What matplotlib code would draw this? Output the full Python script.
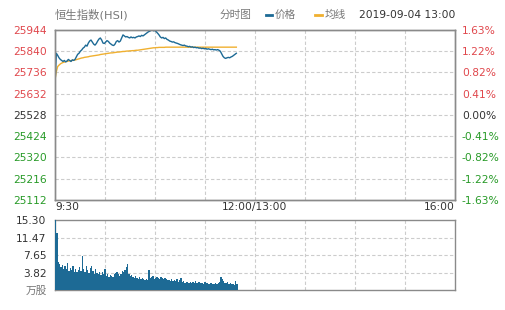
import matplotlib
matplotlib.use('agg')
import matplotlib.pyplot as plt
from matplotlib.lines import Line2D

plt.rcParams['font.family'] = ['DejaVu Sans', 'Noto Sans CJK SC']
plt.rcParams['font.size'] = 7.7

# ---- data (minutes after 9:30) ----
price = [
    25675, 25830, 25820, 25808, 25800, 25795, 25790, 25795, 25788, 25792,
    25800, 25795, 25790, 25798, 25795, 25800, 25812, 25825, 25830, 25840,
    25846, 25855, 25860, 25870, 25865, 25880, 25890, 25895, 25885, 25875,
    25870, 25878, 25890, 25900, 25905, 25895, 25880, 25878, 25885, 25892,
    25888, 25880, 25875, 25870, 25868, 25875, 25888, 25892, 25885, 25890,
    25905, 25920, 25915, 25910, 25912, 25908, 25905, 25910, 25906, 25908,
    25905, 25910, 25912, 25915, 25912, 25918, 25915, 25920, 25925, 25930,
    25935, 25938, 25942, 25944, 25940, 25942, 25935, 25928, 25920, 25910,
    25905, 25908, 25902, 25905, 25898, 25895, 25890, 25888, 25885, 25886,
    25882, 25880, 25878, 25875, 25872, 25870, 25868, 25870, 25866, 25865,
    25862, 25864, 25860, 25862, 25858, 25860, 25857, 25858, 25855, 25856,
    25853, 25855, 25852, 25854, 25850, 25852, 25850, 25848, 25850, 25847,
    25848, 25846, 25848, 25845, 25840, 25828, 25815, 25808, 25805, 25808,
    25810, 25808, 25812, 25815, 25820, 25825, 25830,
]
avg = [
    25700, 25740, 25765, 25772, 25778, 25782, 25785, 25787, 25789, 25790,
    25792, 25793, 25794, 25795, 25796, 25797, 25799, 25801, 25803, 25805,
    25807, 25808, 25810, 25811, 25812, 25813, 25815, 25816, 25817, 25818,
    25819, 25820, 25821, 25822, 25824, 25825, 25826, 25827, 25828, 25829,
    25830, 25831, 25832, 25832, 25833, 25834, 25835, 25836, 25836, 25837,
    25838, 25839, 25839, 25840, 25841, 25841, 25842, 25842, 25843, 25843,
    25844, 25845, 25845, 25846, 25847, 25848, 25849, 25850, 25851, 25852,
    25853, 25854, 25855, 25856, 25857, 25857, 25858, 25858, 25859, 25859,
    25859, 25859, 25859, 25860, 25860, 25860, 25860, 25860, 25860, 25860,
    25860, 25860, 25860, 25860, 25860, 25860, 25860, 25860, 25860, 25860,
    25860, 25860, 25860, 25860, 25860, 25860, 25860, 25860, 25860, 25860,
    25860, 25860, 25860, 25860, 25860, 25860, 25860, 25860, 25860, 25860,
    25860, 25860, 25860, 25860, 25860, 25860, 25860, 25860, 25860, 25860,
    25860, 25860, 25860, 25860, 25860, 25860, 25860,
]
volume = [
    15.3, 12.5, 6.2, 5.6, 5.0, 5.4, 4.6, 5.2, 4.5, 5.8,
    4.2, 4.8, 4.4, 5.3, 4.0, 4.6, 3.9, 4.3, 5.0, 4.1,
    7.5, 4.6, 4.0, 5.2, 4.4, 3.8, 4.8, 5.3, 4.2, 3.6,
    4.5, 3.8, 3.4, 4.0, 3.2, 3.9, 3.5, 4.6, 3.1, 3.4,
    2.8, 3.3, 3.0, 2.9, 3.4, 3.7, 3.9, 3.5, 3.1, 3.6,
    4.1, 3.9, 4.4, 5.0, 5.6, 3.4, 3.0, 3.2, 2.8, 2.6,
    3.0, 2.7, 2.5, 2.9, 2.4, 2.6, 2.3, 2.2, 2.5, 2.1,
    4.4, 2.6, 2.8, 3.0, 2.5, 2.7, 2.9, 2.6, 2.4, 2.8,
    2.7, 2.5, 2.6, 2.3, 2.2, 2.1, 2.0, 2.3, 1.9, 2.2,
    2.0, 2.4, 1.8, 2.1, 2.6, 1.7, 1.9, 1.6, 1.8, 1.7,
    1.6, 1.8, 1.5, 1.7, 1.6, 1.9, 1.5, 1.7, 1.8, 1.6,
    1.5, 1.4, 1.7, 1.6, 1.5, 1.4, 1.6, 1.5, 1.3, 1.4,
    1.5, 1.4, 1.6, 1.8, 2.8, 2.4, 1.9, 1.6, 1.5, 1.7,
    1.4, 1.5, 1.3, 1.4, 1.2, 1.9, 1.3,
]
minutes = list(range(len(price)))

price_ticks = [25112, 25216, 25320, 25424, 25528, 25632, 25736, 25840, 25944]
pct_labels = ['-1.63%', '-1.22%', '-0.82%', '-0.41%', '0.00%',
              '0.41%', '0.82%', '1.22%', '1.63%']
vol_ticks = [0, 3.82, 7.65, 11.47, 15.30]
vol_labels = ['万股', '3.82', '7.65', '11.47', '15.30']
prev_close = 25528

RED = '#e0474c'
GREEN = '#279a27'
DARK = '#333333'
GRAY = '#777777'
BLUE = '#1d6a95'
ORANGE = '#f0b030'
FRAME = '#8a8a8a'
GRID = '#cccccc'

W, H = 505, 310
fig = plt.figure(figsize=(W / 100, H / 100), dpi=100)
ax = fig.add_axes([55 / W, 110 / H, 400 / W, 170 / H])
vax = fig.add_axes([55 / W, 20 / H, 400 / W, 70 / H])

# morning session = 150 min fills left half, afternoon compressed into right half
XMAX = 300
xgrid = [XMAX * i / 8 for i in range(1, 8)]


def tick_color(v):
    if v > prev_close:
        return RED
    if v < prev_close:
        return GREEN
    return DARK


# ---- price pane ----
ax.plot(minutes, price, color=BLUE, linewidth=1.0, zorder=3)
ax.plot(minutes, avg, color=ORANGE, linewidth=1.0, zorder=2)
ax.set_xlim(0, XMAX)
ax.set_ylim(price_ticks[0], price_ticks[-1])
ax.set_yticks(price_ticks)
ax.set_yticklabels([str(v) for v in price_ticks])
for lab, v in zip(ax.get_yticklabels(), price_ticks):
    lab.set_color(tick_color(v))
ax.set_xticks([])
for y in price_ticks[1:-1]:
    ax.axhline(y, color=GRID, linewidth=0.8, linestyle=(0, (3, 2)), zorder=1)
for x in xgrid:
    ax.axvline(x, color=GRID, linewidth=0.8, linestyle=(0, (3, 2)), zorder=1)
ax.tick_params(axis='y', length=0, pad=6)

ax2 = ax.twinx()
ax2.set_ylim(price_ticks[0], price_ticks[-1])
ax2.set_yticks(price_ticks)
ax2.set_yticklabels(pct_labels)
for lab, v in zip(ax2.get_yticklabels(), price_ticks):
    lab.set_color(tick_color(v))
ax2.tick_params(axis='y', length=0, pad=5)

for a in (ax, ax2, vax):
    for s in a.spines.values():
        s.set_color(FRAME)
        s.set_linewidth(1.0)

ax.text(0, -0.04, '9:30', transform=ax.transAxes, ha='left', va='center', color=DARK)
ax.text(0.5, -0.04, '12:00/13:00', transform=ax.transAxes, ha='center', va='center', color=DARK)
ax.text(1, -0.04, '16:00', transform=ax.transAxes, ha='right', va='center', color=DARK)

# ---- volume pane ----
vax.bar(minutes, volume, width=1.0, align='edge', color=BLUE, linewidth=0, zorder=3)
vax.set_xlim(0, XMAX)
vax.set_ylim(0, vol_ticks[-1])
vax.set_yticks(vol_ticks)
vax.set_yticklabels(vol_labels)
for lab in vax.get_yticklabels():
    lab.set_color(DARK)
vax.get_yticklabels()[0].set_color(GRAY)
vax.set_xticks([])
vax.tick_params(axis='y', length=0, pad=6)
for y in vol_ticks[1:-1]:
    vax.axhline(y, color=GRID, linewidth=0.8, linestyle=(0, (3, 2)), zorder=1)
for x in xgrid:
    vax.axvline(x, color=GRID, linewidth=0.8, linestyle=(0, (3, 2)), zorder=1)

# ---- header ----
hy = 1 - 15 / H
fig.text(55 / W, hy, '恒生指数(HSI)', ha='left', va='center', color=GRAY, fontsize=8.2)
fig.text(220 / W, hy, '分时图', ha='left', va='center', color=GRAY)
fig.add_artist(Line2D([266 / W, 272 / W], [hy, hy], color=BLUE, linewidth=2))
fig.text(275 / W, hy, '价格', ha='left', va='center', color=GRAY)
fig.add_artist(Line2D([315 / W, 322 / W], [hy, hy], color=ORANGE, linewidth=2))
fig.text(325 / W, hy, '均线', ha='left', va='center', color=GRAY)
fig.text(455 / W, hy, '2019-09-04 13:00', ha='right', va='center', color=DARK)

fig.savefig('out.png', dpi=100)
plt.close()
